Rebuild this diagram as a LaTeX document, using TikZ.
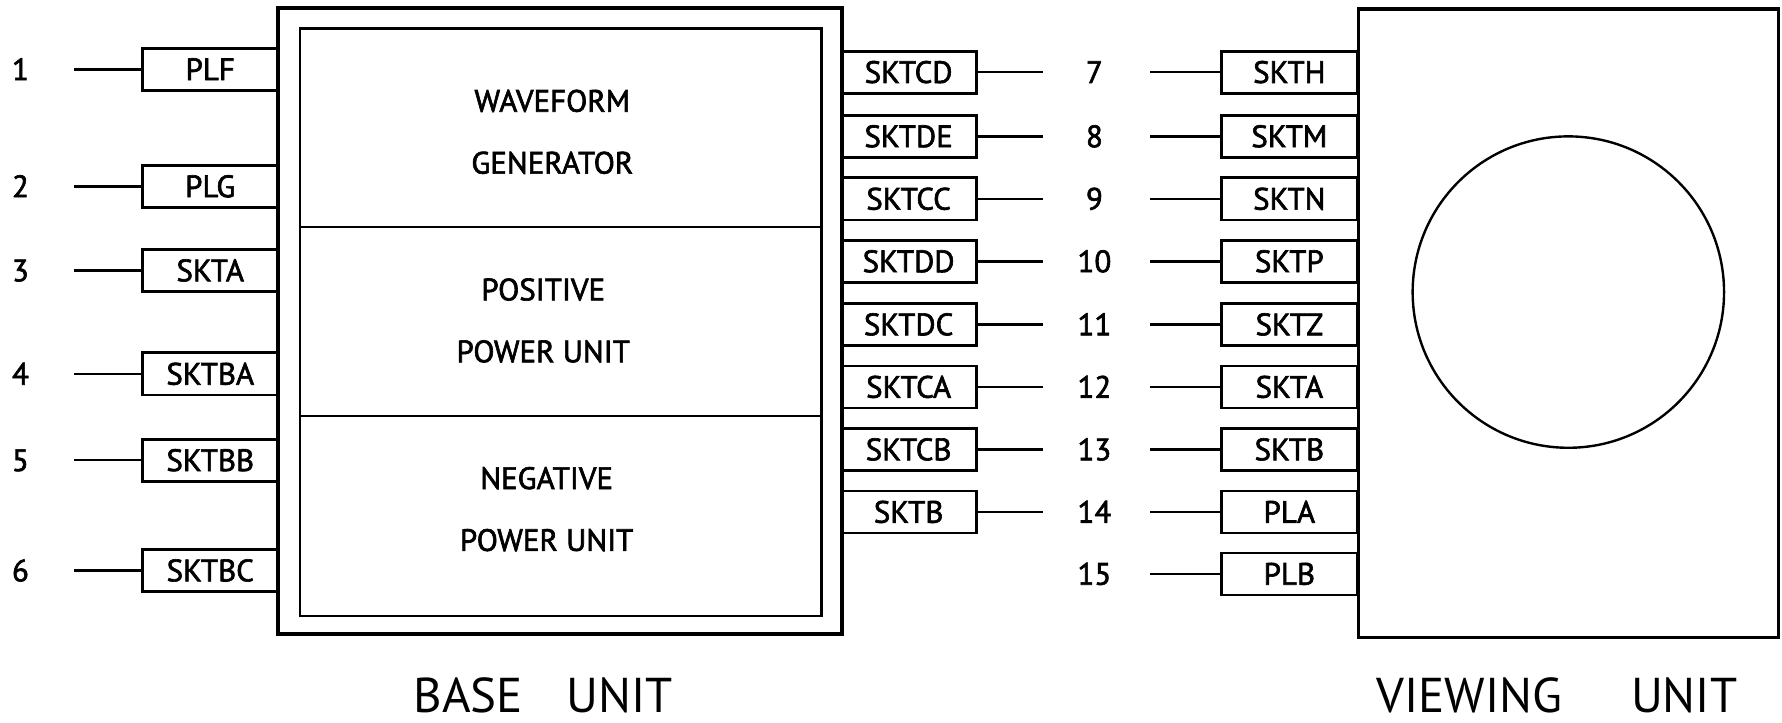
\documentclass[tikz,border=0pt]{standalone}
\usepackage{fontspec}
\setmainfont{PT Sans}[FakeBold=2]
\newfontfamily\unitfont{PT Sans}
\tikzset{
  sktbox/.style={draw, line width=1.4pt, minimum width=2.38cm, minimum height=0.74cm,
                 inner sep=0pt, font=\fontsize{15.5}{17}\selectfont, text height=10.8pt, text depth=0pt},
  wnum/.style={font=\fontsize{15.5}{17}\selectfont, text height=10.8pt, text depth=0pt, inner sep=0pt},
  wire/.style={line width=1.2pt},
  blocktxt/.style={align=center, font=\fontsize{15.5}{31}\selectfont},
  unitname/.style={font=\unitfont\fontsize{24.5}{28}\selectfont},
}

\begin{document}
\begin{tikzpicture}[x=0.02cm, y=-0.02cm]
\useasboundingbox (0,0) rectangle (1568,636);

% --- Base unit ---
\draw[line width=2pt] (245,7) rectangle (741,558);
\draw[line width=1.2pt] (264,25) rectangle (723,542);
\draw[line width=1.2pt] (264,200) -- (723,200);
\draw[line width=1.2pt] (264,366) -- (723,366);
\node[blocktxt] (wavegen) at (486,116) {WAVEFORM\\GENERATOR};
\node[blocktxt] (pospwr) at (478,282) {POSITIVE\\POWER UNIT};
\node[blocktxt] (negpwr) at (481,448) {NEGATIVE\\POWER UNIT};
\node[unitname] (baselbl) at (478,612) {BASE\hspace{0.9em}UNIT};

% Left connectors
\node[sktbox] (plf) at (185,61) {PLF};
\node[sktbox] (plg) at (185,164) {PLG};
\node[sktbox] (skta) at (185,238) {SKTA};
\node[sktbox] (sktba) at (185,329) {SKTBA};
\node[sktbox] (sktbb) at (185,405) {SKTBB};
\node[sktbox] (sktbc) at (185,502) {SKTBC};

\node[wnum] (n1) at (18,61) {1};
\node[wnum] (n2) at (18,164) {2};
\node[wnum] (n3) at (18,238) {3};
\node[wnum] (n4) at (18,329) {4};
\node[wnum] (n5) at (18,405) {5};
\node[wnum] (n6) at (18,502) {6};

\draw[wire, shorten >=0.94cm] (plf.west) -- (n1.center);
\draw[wire, shorten >=0.94cm] (plg.west) -- (n2.center);
\draw[wire, shorten >=0.94cm] (skta.west) -- (n3.center);
\draw[wire, shorten >=0.94cm] (sktba.west) -- (n4.center);
\draw[wire, shorten >=0.94cm] (sktbb.west) -- (n5.center);
\draw[wire, shorten >=0.94cm] (sktbc.west) -- (n6.center);

% Right connectors
\node[sktbox] (sktcd) at (799.5,63.5) {SKTCD};
\node[sktbox] (sktde) at (799.5,120) {SKTDE};
\node[sktbox] (sktcc) at (799.5,175) {SKTCC};
\node[sktbox] (sktdd) at (799.5,230) {SKTDD};
\node[sktbox] (sktdc) at (799.5,285.5) {SKTDC};
\node[sktbox] (sktca) at (799.5,340.5) {SKTCA};
\node[sktbox] (sktcb) at (799.5,395.5) {SKTCB};
\node[sktbox] (sktb) at (799.5,450.5) {SKTB};

% --- Viewing unit ---
\draw[line width=1.6pt] (1195,8) rectangle (1565,561);
\draw[line width=1.2pt] (1380,257) circle (137);
\node[unitname] (viewlbl) at (1370,612) {VIEWING\hspace{1.4em}UNIT};

\node[sktbox] (vh) at (1134.5,63.5) {SKTH};
\node[sktbox] (vm) at (1134.5,120) {SKTM};
\node[sktbox] (vn) at (1134.5,175) {SKTN};
\node[sktbox] (vp) at (1134.5,230) {SKTP};
\node[sktbox] (vz) at (1134.5,285.5) {SKTZ};
\node[sktbox] (va) at (1134.5,340.5) {SKTA};
\node[sktbox] (vb) at (1134.5,395.5) {SKTB};
\node[sktbox] (vpla) at (1134.5,450.5) {PLA};
\node[sktbox] (vplb) at (1134.5,505) {PLB};

\node[wnum] (n7) at (963,63.5) {7};
\node[wnum] (n8) at (963,120) {8};
\node[wnum] (n9) at (963,175) {9};
\node[wnum] (n10) at (963,230) {10};
\node[wnum] (n11) at (963,285.5) {11};
\node[wnum] (n12) at (963,340.5) {12};
\node[wnum] (n13) at (963,395.5) {13};
\node[wnum] (n14) at (963,450.5) {14};
\node[wnum] (n15) at (963,505) {15};

\draw[wire, shorten >=0.9cm] (sktcd.east) -- (n7.center);
\draw[wire, shorten >=0.9cm] (sktde.east) -- (n8.center);
\draw[wire, shorten >=0.9cm] (sktcc.east) -- (n9.center);
\draw[wire, shorten >=0.9cm] (sktdd.east) -- (n10.center);
\draw[wire, shorten >=0.9cm] (sktdc.east) -- (n11.center);
\draw[wire, shorten >=0.9cm] (sktca.east) -- (n12.center);
\draw[wire, shorten >=0.9cm] (sktcb.east) -- (n13.center);
\draw[wire, shorten >=0.9cm] (sktb.east) -- (n14.center);

\draw[wire, shorten <=0.98cm] (n7.center) -- (vh.west);
\draw[wire, shorten <=0.98cm] (n8.center) -- (vm.west);
\draw[wire, shorten <=0.98cm] (n9.center) -- (vn.west);
\draw[wire, shorten <=0.98cm] (n10.center) -- (vp.west);
\draw[wire, shorten <=0.98cm] (n11.center) -- (vz.west);
\draw[wire, shorten <=0.98cm] (n12.center) -- (va.west);
\draw[wire, shorten <=0.98cm] (n13.center) -- (vb.west);
\draw[wire, shorten <=0.98cm] (n14.center) -- (vpla.west);
\draw[wire, shorten <=0.98cm] (n15.center) -- (vplb.west);

\end{tikzpicture}
\end{document}
